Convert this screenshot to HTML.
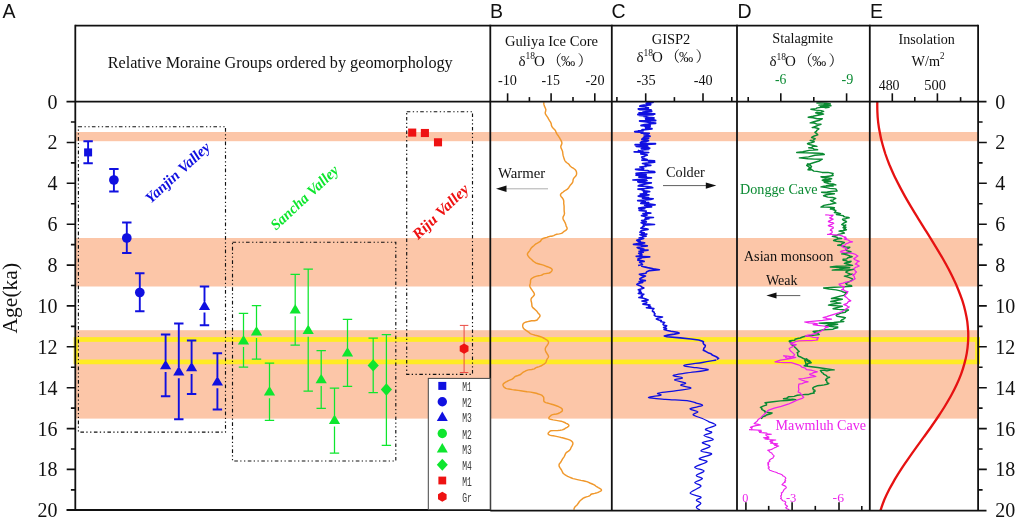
<!DOCTYPE html><html><head><meta charset="utf-8"><title>Figure</title><style>html,body{margin:0;padding:0;background:#fff}svg text{white-space:pre}</style></head><body><svg width="1017" height="520" viewBox="0 0 1017 520" style="display:block">
<rect width="1017" height="520" fill="#fff"/>
<rect x="75.5" y="132" width="902.5" height="9.199999999999989" fill="#fcc6a8"/>
<rect x="75.5" y="238" width="902.5" height="48.5" fill="#fcc6a8"/>
<rect x="75.5" y="330.2" width="902.5" height="88.40000000000003" fill="#fcc6a8"/>
<rect x="76.0" y="339.5" width="901.5" height="22.4" fill="none" stroke="#ffeb24" stroke-width="4.7"/>
<path d="M543.8,102.2L543.8,103.1L543.9,104.4L544.4,106.1L545.3,108.0L545.9,109.7L545.7,111.0L545.4,111.9L545.2,112.9L545.4,113.8L546.0,114.9L546.8,116.1L547.7,117.4L548.5,118.9L549.5,120.6L550.7,122.4L551.3,124.0L551.4,125.4L552.0,126.8L553.2,128.2L554.5,129.5L555.4,130.5L555.8,131.5L556.1,132.4L556.6,133.4L557.3,134.5L558.2,135.7L558.9,136.8L559.6,137.9L560.3,139.2L561.1,140.6L561.8,142.1L561.9,143.5L561.4,144.9L560.8,146.3L561.0,147.9L561.9,149.7L562.6,151.6L562.8,153.5L563.1,155.4L563.7,157.4L564.2,159.1L564.8,160.6L565.8,161.9L567.2,163.0L568.5,163.9L569.2,164.6L569.5,165.1L569.9,165.8L570.7,166.5L571.8,167.3L573.2,168.2L574.4,169.0L575.3,169.8L575.9,170.6L576.3,171.4L576.5,172.2L576.6,173.0L576.6,173.9L576.4,174.7L576.1,175.5L575.5,176.3L574.8,177.1L574.0,177.9L573.5,178.7L573.1,179.7L573.0,180.8L572.8,182.0L572.2,183.1L571.2,184.2L570.2,185.3L569.5,186.3L568.9,187.4L568.3,188.3L567.4,189.1L566.3,189.8L565.2,190.5L564.3,191.1L563.5,191.7L562.8,192.3L562.1,192.7L561.6,193.1L561.2,193.6L560.8,194.0L560.5,194.6L560.5,195.2L560.7,195.9L561.2,196.7L562.0,197.5L562.8,198.6L563.4,199.7L563.7,200.8L563.8,202.0L563.7,203.3L563.9,204.7L564.1,206.2L564.1,207.7L564.1,209.4L564.2,211.3L564.5,213.3L564.1,215.1L563.2,216.6L562.9,218.1L563.3,219.6L564.2,221.0L564.9,222.3L565.4,223.4L565.8,224.4L566.0,225.4L566.2,226.2L566.6,226.9L566.9,227.5L567.1,228.1L567.1,228.7L566.9,229.2L566.4,229.8L565.7,230.3L564.9,230.9L564.1,231.4L563.3,232.0L562.6,232.7L561.6,233.4L559.4,233.9L556.7,234.3L555.0,234.9L553.7,235.6L552.4,236.0L551.5,236.3L550.8,236.3L550.4,236.3L549.9,236.3L549.4,236.5L548.4,236.8L546.8,237.4L544.5,238.0L542.3,238.8L541.2,240.0L540.4,241.3L539.0,242.2L537.4,243.1L535.9,243.9L534.8,244.8L533.8,245.7L532.7,246.6L531.7,247.5L531.0,248.4L530.4,249.4L529.9,250.3L529.3,251.2L528.6,252.0L528.0,252.8L527.5,253.6L527.4,254.4L527.7,255.4L528.4,256.4L529.3,257.5L530.3,258.5L531.3,259.3L532.1,260.1L532.9,260.9L533.7,261.5L534.7,262.2L535.7,262.8L536.7,263.3L538.1,263.7L540.2,264.3L542.5,264.9L544.1,265.4L545.1,265.8L546.0,266.2L547.4,266.7L549.1,267.4L550.6,268.0L551.5,268.6L552.0,269.2L552.2,269.8L552.0,270.5L551.6,271.2L551.1,271.8L550.3,272.5L549.2,273.0L547.6,273.3L545.6,273.6L543.9,273.9L542.9,274.4L542.1,275.0L540.6,275.4L538.6,275.7L536.7,276.1L535.2,276.6L533.9,277.2L532.7,277.8L531.6,278.5L531.0,279.2L530.6,280.1L530.5,280.9L530.5,281.9L530.4,282.8L530.2,283.7L529.9,284.7L529.7,285.8L530.1,287.1L531.0,288.5L531.9,289.8L532.6,290.9L533.2,291.7L533.6,292.4L533.9,292.9L534.2,293.4L534.4,294.0L534.4,294.6L534.1,295.3L533.5,296.0L532.8,296.8L532.0,297.5L531.4,298.3L531.0,299.2L531.0,300.2L531.2,301.3L531.5,302.4L531.7,303.4L531.8,304.5L531.9,305.4L532.0,306.4L532.8,307.6L534.3,308.9L535.8,310.2L536.9,311.3L537.5,312.2L538.0,313.0L538.6,313.6L539.2,314.2L539.7,314.8L540.0,315.4L540.0,315.9L539.8,316.5L539.4,317.1L538.9,317.7L538.3,318.3L537.9,319.0L537.5,319.7L536.6,320.3L534.5,320.7L531.6,320.8L529.4,321.2L527.7,321.6L526.2,322.0L525.1,322.4L524.2,322.8L523.7,323.2L523.3,323.7L523.0,324.2L522.8,324.7L522.7,325.3L522.7,326.0L522.8,326.7L523.0,327.4L523.3,328.1L524.0,328.9L525.0,329.7L526.4,330.7L527.8,331.6L529.0,332.4L529.7,333.1L530.4,333.6L531.5,334.1L533.2,334.6L535.2,335.2L537.4,335.7L539.9,336.5L541.8,337.1L542.8,337.6L543.5,338.0L544.4,338.5L545.4,339.1L546.6,339.8L547.5,340.5L548.1,341.2L548.4,341.9L548.5,342.5L548.4,343.1L548.1,343.8L547.8,344.4L547.4,345.0L547.0,345.6L546.5,346.2L546.1,346.8L545.7,347.5L545.4,348.2L545.3,349.1L545.3,350.0L545.6,351.0L546.0,352.0L546.7,353.0L547.2,354.0L547.8,354.8L548.2,355.5L548.4,356.1L548.5,356.7L548.3,357.3L548.0,357.9L547.4,358.6L546.9,359.5L546.5,360.5L546.2,361.4L545.8,362.4L545.1,363.2L544.4,363.8L543.5,364.4L542.7,364.9L541.8,365.5L540.7,366.0L539.2,366.6L537.2,367.2L535.6,367.9L534.3,368.9L531.7,369.5L528.4,369.9L526.2,370.6L524.8,371.4L523.3,372.2L522.2,373.0L521.2,373.9L520.0,374.8L518.0,375.5L515.8,376.2L514.3,377.2L513.2,378.4L511.7,379.4L509.7,380.1L508.0,380.8L506.7,381.6L505.6,382.2L504.6,382.8L503.8,383.4L503.2,384.0L503.0,384.6L503.0,385.3L503.3,386.0L503.7,386.8L504.4,387.4L505.2,388.0L505.9,388.4L506.7,388.6L508.9,389.0L512.3,389.6L515.1,390.0L518.2,390.4L520.7,390.8L523.6,391.2L527.1,391.8L528.7,391.9L530.7,392.1L533.8,392.7L536.3,393.3L538.4,394.0L540.4,394.6L541.6,395.2L542.3,395.7L542.8,396.2L543.4,396.9L543.7,397.6L543.8,398.4L543.8,399.3L543.8,400.2L543.8,401.0L544.2,401.7L544.9,402.2L545.8,402.6L547.4,403.0L549.5,403.6L551.6,404.2L553.5,404.8L555.6,405.5L557.6,406.2L558.7,406.7L559.4,407.1L560.6,407.7L561.7,408.5L562.3,409.3L562.4,410.2L562.2,411.0L561.5,411.7L560.4,412.4L559.4,413.0L558.1,413.5L556.5,414.0L554.5,414.3L552.6,414.6L551.4,415.1L550.7,415.7L550.1,416.2L549.5,416.8L549.1,417.4L548.8,417.9L548.9,418.4L549.2,418.9L550.5,419.3L553.2,419.9L556.2,420.4L558.9,420.9L561.2,421.3L562.6,421.6L563.4,422.0L564.7,422.5L566.2,423.3L567.7,424.0L568.6,424.7L568.9,425.4L568.8,426.0L568.1,426.7L567.1,427.3L566.0,427.9L564.9,428.6L563.9,429.3L562.3,429.9L560.1,430.3L557.4,430.6L553.5,430.6L550.7,430.8L549.7,431.4L549.2,432.0L548.6,432.6L548.2,433.2L548.1,433.7L548.3,434.2L548.8,434.7L549.7,435.1L551.3,435.5L553.2,435.8L555.1,436.1L557.4,436.6L559.7,437.1L561.1,437.5L562.4,437.8L565.0,438.5L568.1,439.4L570.1,440.2L571.3,440.9L572.2,441.7L572.7,442.5L572.9,443.4L572.8,444.3L572.4,445.2L571.9,446.1L571.3,447.1L570.9,448.1L570.4,449.3L569.5,450.3L568.1,451.3L566.6,452.3L565.6,453.5L565.0,454.9L564.4,456.3L563.5,457.6L562.6,458.9L561.9,460.2L561.2,461.5L560.3,462.7L559.4,463.8L559.0,465.0L559.2,466.4L559.9,467.7L560.8,469.0L561.6,470.2L562.1,471.3L562.5,472.2L563.0,473.1L564.0,474.0L565.2,474.9L566.4,475.7L567.7,476.4L569.5,477.2L571.5,478.0L573.1,478.6L574.4,478.9L577.3,479.6L580.9,480.4L583.2,480.8L585.1,481.2L586.8,481.6L588.1,482.2L589.9,483.0L592.3,484.0L594.2,484.9L595.4,485.7L596.1,486.3L597.1,486.9L598.3,487.6L599.7,488.3L600.7,489.0L601.3,489.6L601.5,490.2L601.2,490.7L600.6,491.2L599.6,491.7L598.5,492.2L597.4,492.6L596.1,493.0L594.7,493.4L593.1,493.7L591.7,494.0L590.8,494.5L590.3,495.2L589.5,495.9L588.2,496.4L586.4,496.9L584.7,497.5L583.3,498.2L582.1,499.1L580.7,500.2L579.4,501.5L578.3,503.3L576.8,505.2L575.0,506.8L574.1,508.4L574.0,509.7" fill="none" stroke="#f0982c" stroke-width="1.45" stroke-linejoin="round"/>
<path d="M647.9,102.0L653.0,102.4L647.2,102.9L646.3,103.3L647.1,103.8L650.6,104.3L650.5,104.8L643.7,105.2L641.1,105.6L639.9,106.1L645.6,106.6L645.7,107.1L646.8,107.5L648.4,108.0L645.8,108.5L638.4,109.0L639.9,109.5L651.0,109.9L649.3,110.5L646.3,110.9L651.7,111.3L647.0,111.7L643.0,112.1L646.5,112.6L639.1,113.0L641.3,113.5L654.7,114.0L637.9,114.5L653.1,114.9L639.5,115.4L645.4,115.9L644.0,116.4L646.3,116.9L648.5,117.4L653.9,117.9L652.1,118.4L645.7,118.7L653.8,119.3L646.9,119.6L645.9,120.1L655.6,120.5L639.7,121.0L645.0,121.5L648.0,122.0L648.2,122.4L651.0,122.8L655.6,123.2L650.1,123.6L650.3,124.2L644.4,124.6L642.4,125.1L641.1,125.5L650.2,126.0L644.9,126.4L646.2,126.9L649.7,127.5L645.9,127.9L645.8,128.3L651.9,128.8L647.5,129.3L642.7,129.7L641.8,130.1L643.3,130.6L638.5,130.9L639.6,131.3L634.8,131.7L640.8,132.1L642.8,132.6L641.2,133.0L649.2,133.4L646.2,133.8L644.6,134.3L644.2,134.8L648.1,135.3L647.6,135.7L650.0,136.2L644.3,136.6L648.6,137.1L647.4,137.5L643.4,137.9L648.5,138.4L642.5,138.8L641.9,139.2L644.1,139.7L646.3,140.2L648.4,140.7L646.9,141.2L641.5,141.6L645.3,142.0L641.6,142.4L640.4,142.8L646.3,143.4L655.4,143.7L646.6,144.3L635.2,144.8L647.5,145.3L644.8,145.7L636.3,146.2L642.3,146.7L648.0,147.1L642.0,147.4L642.2,147.9L649.6,148.3L641.4,148.8L648.5,149.4L641.6,149.7" fill="none" stroke="#1010e0" stroke-width="1.9" stroke-linejoin="round"/>
<path d="M639.2,150.0L638.5,150.7L642.8,151.4L634.2,151.9L648.7,152.5L642.7,153.3L640.8,153.8L644.3,154.4L647.3,155.1L644.9,155.6L644.6,156.3L641.7,157.0L642.1,157.6L642.3,158.1L644.6,158.8L647.1,159.5L641.9,160.2L654.5,160.9L648.6,161.5L654.7,162.2L648.6,162.9L642.5,163.5L644.8,164.0L645.4,164.6L650.8,165.3L645.2,165.8L646.3,166.4L639.8,167.0L643.0,167.6L642.4,168.3L643.7,168.8L635.5,169.3L638.9,170.0L647.5,170.5L649.0,171.0L654.5,171.6L654.9,172.3L641.1,172.8L636.1,173.4L641.6,174.0L646.1,174.6L636.0,175.1L646.0,175.9L646.3,176.5L638.9,177.2L651.4,177.9L643.9,178.4L646.3,179.0L638.7,179.5L632.9,180.0L647.0,180.5L643.9,181.1L637.8,181.7L638.9,182.3L651.3,182.9L648.0,183.4L645.6,184.0L642.5,184.7L639.1,185.4L638.3,186.0L647.6,186.6L650.7,187.1L652.7,187.7L645.4,188.5L638.0,189.1L643.7,189.7L642.3,190.3L645.1,190.9L649.7,191.6L643.7,192.2L646.8,192.8L646.3,193.5L640.2,194.2L648.9,194.9L641.7,195.6L638.3,196.1L642.6,196.8L648.6,197.5L642.5,198.2L653.2,198.8L650.7,199.5L645.8,200.0L637.7,200.7L645.2,201.3L641.4,202.0L648.7,202.7L640.8,203.4L650.1,204.1L655.1,204.8L644.7,205.4L648.4,206.0L651.6,206.8L643.5,207.4L638.7,208.1L644.8,208.6L639.7,209.3L639.2,209.9L639.2,210.5L646.2,211.2L645.4,211.8L646.1,212.5L650.8,213.1L643.0,213.6L645.1,214.1L643.9,214.7L647.0,215.2L641.5,215.7L645.2,216.3L645.6,217.0L653.4,217.5L645.5,218.1L649.0,218.6L644.8,219.3L645.7,220.0L641.6,220.5L643.4,221.1L646.3,221.9L641.2,222.6L642.6,223.2L645.8,223.8L654.5,224.5L643.2,225.1L644.3,225.7L644.1,226.2L642.5,226.9L642.4,227.5L640.8,228.2L646.4,228.8L648.0,229.4L643.7,230.1L641.1,230.8L641.2,231.6L639.9,232.2L644.2,232.9L641.9,233.5L646.8,234.1L640.0,234.7L642.8,235.4L646.1,236.1L642.8,236.7L642.2,237.4L639.1,238.0L643.7,238.5L641.3,239.1L638.2,239.8L636.8,240.4L640.2,241.0L637.9,241.6L639.2,242.2L644.6,242.8L641.5,243.4L636.8,243.9L633.5,244.4L642.2,245.1L647.3,245.8L643.0,246.4L640.7,247.0L637.2,247.6L638.8,248.4L643.8,249.1L640.6,249.6L648.0,250.1L642.0,250.8L639.1,251.4L643.3,252.1L641.2,252.7L638.7,253.3L641.2,253.9L641.8,254.5L640.1,255.1L642.0,255.8L636.2,256.3L649.7,256.9L640.1,257.6L641.3,258.1L638.1,258.8L638.9,259.5L637.8,260.1L642.3,260.8L644.1,261.4L640.1,261.9L639.7,262.4L641.5,263.0L641.4,263.7L642.4,264.4L640.2,265.0L638.1,265.5" fill="none" stroke="#1010e0" stroke-width="1.7" stroke-linejoin="round"/>
<path d="M641.1,266.0L644.4,266.9L647.6,267.6L653.4,268.7L659.4,269.7L649.5,270.6L647.4,271.4L646.4,272.2L645.9,273.3L639.4,274.3L641.0,275.1L645.5,276.1L643.3,277.1L641.2,278.0L639.7,279.0L640.7,279.9L645.4,280.6L639.1,281.5L642.7,282.4L638.3,283.4L636.8,284.4L639.2,285.4L641.0,286.3L642.1,287.3L643.9,288.0L641.8,288.8L638.3,289.7L640.6,290.8L639.2,291.6L641.4,292.6L638.3,293.4L643.9,294.2L642.7,295.1L641.2,295.9L642.3,296.7L638.9,297.5L643.5,298.3L645.8,299.1L648.2,300.0L642.0,301.0L646.7,302.1L646.7,303.1L642.9,304.1L650.0,305.1L648.7,306.1L650.8,307.0L646.4,307.7L653.9,308.6L653.0,309.3L652.6,310.3L652.4,311.2L654.2,312.2L654.2,313.1L655.1,313.8L654.5,314.6L654.2,315.4L655.9,316.3L662.5,317.0L658.6,317.9L656.3,319.0L658.8,319.9L661.3,320.6L660.6,321.5L664.6,322.5L663.6,323.4L663.0,324.2L663.4,325.0L666.7,325.8L666.1,326.5L663.6,327.6L666.5,328.5L664.0,329.5L667.4,330.5L671.0,331.3L677.1,332.3L679.1,333.1L674.3,334.1L667.9,335.1L664.3,336.0L667.0,336.8L680.3,337.9L690.9,339.0L698.7,340.0L701.8,341.1L703.5,341.8L703.1,342.6L703.3,343.4L703.9,344.3L705.3,345.4L705.1,346.5L704.8,347.2L703.8,348.2L703.8,349.2L703.3,350.2L705.0,351.0L707.0,352.1L708.7,353.1L711.0,353.8L711.6,354.5L713.4,355.6L715.7,356.5L717.5,357.5L718.6,358.4L716.9,359.4" fill="none" stroke="#1010e0" stroke-width="1.6" stroke-linejoin="round"/>
<path d="M716.3,360.0C714.0,360.4 707.8,361.6 702.4,362.5C697.0,363.4 684.9,364.6 683.9,365.5C682.9,366.4 692.3,367.0 696.3,367.7C700.3,368.4 709.5,369.0 708.0,369.9C706.5,370.8 692.8,372.0 687.0,372.9C681.2,373.8 674.0,374.6 673.2,375.4C672.4,376.2 682.1,377.1 682.4,377.9C682.6,378.7 674.2,379.1 674.7,380.0C675.2,380.9 684.5,382.2 685.5,383.1C686.5,384.0 680.0,384.4 680.9,385.3C681.8,386.2 692.2,387.3 690.7,388.3C689.2,389.3 677.1,390.6 671.6,391.4C666.1,392.2 659.6,392.7 657.8,393.3C656.0,393.9 662.3,394.4 660.8,395.1C659.2,395.8 647.7,396.9 648.5,397.6C649.3,398.3 659.1,398.9 665.5,399.4C671.9,399.9 681.9,400.1 687.0,400.7C692.1,401.3 693.7,402.3 696.3,403.1C698.9,403.9 703.4,404.7 702.4,405.6C701.4,406.5 690.9,407.7 690.1,408.7C689.3,409.7 697.3,410.8 697.8,411.8C698.3,412.8 692.4,413.7 693.2,414.8C694.0,415.9 699.8,417.4 702.4,418.5C705.0,419.6 706.4,420.5 708.6,421.6C710.8,422.7 716.2,424.0 715.7,425.3C715.2,426.6 706.2,428.1 705.5,429.3C704.8,430.5 712.0,431.4 711.7,432.4C711.5,433.4 703.8,434.3 704.0,435.5C704.2,436.7 713.5,438.3 713.2,439.5C712.9,440.7 702.9,441.5 702.4,442.6C701.9,443.7 710.4,444.9 710.1,446.3C709.9,447.7 700.6,449.6 700.9,450.9C701.2,452.2 712.0,452.7 711.7,454.0C711.4,455.3 700.1,457.3 699.3,458.6C698.5,459.9 707.8,460.3 707.0,461.7C706.2,463.1 695.2,465.7 694.7,467.2C694.2,468.7 703.7,469.5 704.0,470.9C704.3,472.3 696.6,474.2 696.3,475.5C696.0,476.8 702.7,477.4 702.4,478.6C702.1,479.8 695.0,481.3 694.7,482.6C694.5,483.9 701.7,484.6 700.9,486.3C700.1,488.1 690.1,491.3 690.1,493.1C690.1,494.9 699.9,495.9 700.9,497.1C701.9,498.3 696.3,499.2 696.3,500.2C696.3,501.2 700.9,502.1 700.9,503.3C700.9,504.5 696.4,506.2 696.3,507.3C696.1,508.4 699.4,509.6 700.0,510.0" fill="none" stroke="#1010e0" stroke-width="1.3" stroke-linejoin="round"/>
<path d="M816.9,103.0L820.3,103.0L826.5,103.1L830.4,104.0L826.4,103.8L823.7,104.8L818.9,105.1L824.2,105.2L827.4,105.4L831.0,105.7L826.8,106.1L822.7,106.3L820.3,106.7L823.8,107.0L825.7,107.8L829.0,107.4L826.4,107.2L823.8,107.3L821.0,107.4L817.2,107.9L816.0,108.6L810.9,109.2L815.3,110.1L821.2,110.6L823.6,111.4L820.4,112.6L817.0,112.2L815.6,112.8L818.9,113.9L820.1,113.0L823.6,114.1L819.1,115.0L813.0,116.3L808.2,117.2L813.1,117.8L817.2,118.7L822.3,118.8L819.6,120.2L813.8,121.7L810.2,122.9L814.2,123.0L817.0,124.1L821.0,124.2L818.0,125.3L815.3,126.5L812.2,127.6L814.4,127.5L818.3,128.5L818.9,128.9L816.8,130.3L816.5,131.2L814.9,132.3L816.7,133.6L817.2,134.1L817.6,134.3L817.7,134.9L813.5,136.3L812.2,137.0L811.6,137.6L815.2,138.6L814.9,139.0L813.9,139.0L813.9,140.1L810.2,140.4L812.2,141.0L811.3,140.9L814.2,141.7L810.9,142.9L809.0,143.0L807.5,143.7L810.4,144.8L814.2,145.6L816.9,146.4L813.1,146.0L811.7,147.4L808.8,147.8L812.9,148.4L814.1,149.2L817.6,149.8L809.2,150.4L802.8,151.7L796.7,152.5L806.0,152.9L812.6,153.0L818.9,153.2L821.0,153.5L822.3,153.4L824.3,154.5L814.9,155.3L808.5,156.9L799.4,157.9L808.1,158.7L814.4,159.1L822.3,159.2L819.1,161.0L813.4,162.8L807.5,164.6L806.7,165.5L808.1,166.4L809.5,167.3L809.3,168.3L808.0,169.7L810.2,170.0L810.5,167.9L807.6,166.0L807.5,164.0L809.5,165.1L810.5,165.3L811.5,166.7L810.1,168.0L810.9,168.1L810.2,169.4L811.6,169.7L813.8,171.1L816.9,171.4L822.1,172.4L827.9,172.4L833.1,173.5L832.5,174.8L832.4,174.5L833.1,175.5L830.2,176.0L825.0,176.8L821.0,176.8L822.9,177.6L827.2,177.8L831.7,178.8L827.8,179.6L825.3,179.2L822.3,180.2L824.0,181.0L828.6,180.6L830.4,181.3L830.6,181.5L825.2,181.9L824.3,182.3L829.0,183.6L832.9,183.9L835.8,184.9L832.1,184.7L829.4,185.2L826.3,185.6L828.8,185.4L830.3,185.7L833.1,186.1L827.9,186.1L824.1,186.3L821.0,186.9L826.4,187.6L829.6,188.4L835.8,188.9L836.5,190.0L836.5,190.2L837.1,191.0L831.3,191.4L827.2,191.9L821.6,192.3L825.7,192.9L830.2,193.3L834.4,193.7L830.0,194.4L826.3,194.8L823.6,195.7L827.8,197.1L832.6,197.5L835.8,198.4L833.8,199.3L833.4,200.0L830.4,200.4L832.0,201.3L833.7,202.1L835.8,203.1L830.0,204.3L823.9,205.4L821.0,207.1L825.8,207.1L830.4,207.2L834.4,207.8L832.7,208.3L830.8,208.5L830.4,209.1L834.4,209.4L833.3,209.9L835.8,210.5L835.3,211.1L835.8,212.0L834.4,212.5L836.1,212.8L837.1,212.8L840.5,213.6L838.4,214.1L837.9,214.4L836.4,214.5L839.8,215.1L843.3,215.7L843.8,216.5L845.1,216.9L848.5,217.4L849.2,217.9L846.3,218.4L845.8,218.7L842.5,219.2L843.6,220.4L846.1,221.3L846.5,221.9L844.3,222.9L843.7,223.2L841.8,224.6L844.3,225.5L844.2,227.0L845.9,227.3L845.3,228.0L844.5,229.2L843.8,230.0L845.2,228.3L844.3,226.5L845.8,225.0L844.1,225.6L843.9,226.7L843.1,227.7L844.2,228.1L844.5,229.0L846.4,229.7L843.6,230.5L840.7,230.7L839.0,231.1L840.8,231.4L843.3,232.4L844.4,233.1L838.4,234.4L837.2,235.1L832.3,236.4L837.0,237.2L837.5,237.9L841.7,238.5L838.7,238.8L834.4,239.9L833.6,240.5L836.6,241.3L841.2,241.7L844.4,242.5L841.7,243.9L841.5,244.5L837.7,245.2L841.4,245.6L845.4,247.0L849.8,247.2L848.9,248.0L846.0,249.0L845.8,249.9L846.7,250.6L850.0,251.5L851.1,251.9L848.1,252.5L845.1,253.8L841.7,253.9L844.8,254.2L848.5,255.4L849.8,256.0L852.1,256.7L847.9,257.7L847.1,258.6L846.1,259.0L843.1,259.2L843.1,260.3L845.6,260.5L847.9,261.6L851.1,261.3L849.6,262.3L846.2,262.8L844.4,263.4L846.9,264.0L850.5,264.9L852.5,265.4L845.4,266.0L836.4,266.3L830.3,267.0L837.1,267.2L842.6,267.6L849.8,267.8L843.1,268.4L838.9,269.2L832.3,270.1L840.8,270.0L847.4,269.9L853.8,269.4L849.2,270.3L847.3,271.1L845.8,272.1L847.9,273.1L850.2,273.9L852.5,274.1L849.3,274.8L847.2,275.7L844.4,276.1L847.1,276.9L849.5,277.6L852.5,278.8L852.7,279.9L851.1,280.7L849.8,281.5L847.9,282.1L847.8,282.7L845.8,283.5L847.1,284.9L851.2,285.4L851.8,286.2L842.9,286.9L834.3,287.3L823.6,288.0L829.2,289.1L836.1,289.9L840.4,290.9L841.9,291.3L842.5,291.7L844.4,292.3L845.3,292.5L845.5,292.1L846.9,292.3L845.5,293.4L845.5,294.0L843.8,295.4L840.1,296.1L836.3,297.2L831.5,298.5L834.1,298.5L838.7,298.7L842.3,299.2L838.7,300.0L834.7,300.8L830.8,301.5L834.9,301.9L837.4,302.6L840.8,303.1L834.8,303.8L831.9,304.2L828.5,305.1L832.7,305.5L838.0,305.9L842.3,306.2L838.6,307.2L836.5,307.8L833.1,308.8L838.2,309.4L843.7,309.8L848.5,310.0L846.0,311.3L845.3,312.2L840.8,313.1L837.8,314.3L837.2,314.2L836.2,315.4L837.1,316.3L843.3,317.2L845.4,317.7L843.5,319.1L842.2,319.6L840.8,320.8L841.9,321.1L842.9,321.4L843.8,321.5L833.7,322.5L826.9,322.7L819.2,323.1L824.7,323.5L831.4,323.4L837.7,324.2L833.9,325.0L828.5,324.9L825.4,326.2L828.9,326.2L833.7,326.7L837.7,326.9L837.6,327.9L834.4,328.5L833.1,329.2L823.8,329.8L818.9,330.7L813.1,331.5L815.4,332.6L818.0,333.4L819.2,334.6L814.9,335.1L810.0,335.7L805.4,336.2L802.6,337.0L800.2,338.0L797.7,338.5L795.0,339.3L794.9,340.2L790.0,340.8" fill="none" stroke="#0a8a32" stroke-width="1.45" stroke-linejoin="round" stroke-linecap="round"/>
<path d="M790.0,340.8L789.2,341.2L791.0,341.9L790.9,341.9L790.0,342.3L791.4,343.4L791.3,344.5L794.2,345.8L794.6,346.9L795.5,347.8L796.9,349.1L798.1,350.5L799.2,351.5L797.2,352.7L797.7,353.6L797.7,355.3L798.5,356.2L800.7,357.0L801.3,357.3L803.4,358.5L805.4,359.2L806.5,360.2L807.4,361.2L809.4,362.0L810.0,362.3L809.0,363.2L807.0,364.4L807.4,365.2L805.4,366.2L806.0,364.3L805.6,362.4L804.8,360.4L806.5,358.8L807.7,359.8L809.7,360.9L810.3,361.7L811.2,362.7L807.6,363.5L807.0,364.3L805.7,364.9L804.2,365.8L811.3,366.7L817.7,367.5L827.7,369.0L834.2,369.9L830.4,370.0L827.0,370.9L824.3,370.3L820.4,370.4L820.6,370.8L822.0,372.6L823.4,373.3L823.5,374.2L824.5,374.7L826.6,375.7L827.2,376.9L829.6,377.3L827.9,377.9L825.8,379.3L826.6,379.6L825.8,380.4L826.8,380.9L826.8,382.0L827.4,382.8L828.8,383.5L826.9,384.2L824.2,384.9L821.6,385.3L817.3,385.8L816.5,386.1L814.8,386.7L813.8,387.2L812.7,388.1L813.5,389.5L813.2,389.8L814.9,390.2L815.0,391.2L813.8,391.6L813.4,392.2L814.2,393.1L811.2,393.5L808.6,394.4L805.3,394.4L801.1,394.9L797.3,395.3L794.1,396.4L788.8,396.7L786.7,398.1L783.5,398.8L786.1,399.0L790.5,399.4L792.6,399.3L795.8,399.6L786.9,400.5L780.5,400.9L773.1,401.8L765.0,402.7L765.1,402.9L766.5,403.7L766.4,404.5L766.5,405.0L764.5,405.6L763.2,406.1L762.0,406.6L760.4,407.3L762.0,408.3L761.7,409.3L763.5,410.3L765.0,411.2L764.6,411.8L766.2,412.2L772.1,413.0L771.2,413.5L770.0,414.0L766.3,415.0L765.6,415.7L763.5,416.5L762.4,416.8L762.1,417.8L762.0,417.8L761.6,418.4" fill="none" stroke="#0a8a32" stroke-width="1.45" stroke-linejoin="round" stroke-linecap="round"/>
<path d="M825.7,214.9L828.5,215.0L829.8,215.3L833.1,215.2L832.2,216.2L831.0,217.3L829.7,217.9L831.5,218.6L831.7,218.7L833.1,219.2L831.0,220.1L828.4,221.4L829.0,221.9L830.7,222.4L832.8,222.7L833.7,223.3L832.1,224.2L828.9,225.3L828.3,225.7L830.0,226.3L830.6,226.4L833.0,227.0L833.4,228.0L830.9,229.4L830.3,230.4L831.8,230.7L832.3,232.2L831.6,233.1L831.0,233.3L829.2,234.3L827.6,234.4L831.3,234.5L834.9,234.8L839.0,235.1L841.9,235.8L843.2,236.6L845.8,237.1L844.5,237.5L846.7,238.3L844.4,239.1L848.3,240.0L849.6,241.0L852.5,241.8L849.6,242.3L847.9,243.1L845.8,243.8L845.0,245.2L842.2,245.4L841.7,246.5L844.1,247.6L846.2,248.2L847.1,249.2L845.3,250.1L841.4,251.1L840.4,251.9L843.3,252.5L848.1,252.8L852.5,253.3L855.9,254.5L856.4,255.2L857.9,256.0L856.0,257.1L855.7,257.6L853.8,258.6L854.4,259.5L857.3,260.6L859.2,261.3L857.1,262.0L856.9,263.2L855.2,264.0L857.3,265.0L857.2,264.8L859.2,266.0L857.5,266.8L855.8,267.2L853.8,268.7L854.7,269.9L855.2,271.1L856.5,272.1L855.3,273.1L854.8,274.2L852.5,274.8L854.3,276.2L854.4,277.6L855.2,278.8L853.6,279.6L851.9,280.8L849.8,281.5L845.9,282.2L843.1,283.2L839.0,284.2L839.7,285.1L841.5,286.1L844.4,286.9L843.2,287.8L843.5,289.0L841.7,289.6L843.5,289.8L845.0,290.7L847.1,291.6L848.0,291.9L848.0,291.7L847.7,291.5L847.1,293.2L845.4,294.8L844.6,296.2L846.5,297.4L848.8,299.6L850.8,300.8L848.3,301.7L847.1,303.4L843.8,304.6L846.1,305.3L847.8,306.5L849.2,306.9L846.5,308.6L844.9,309.8L842.3,311.5L839.4,312.7L835.5,313.9L833.1,314.6L828.9,315.9L826.9,316.7L823.1,317.7L825.3,318.0L827.1,318.7L831.5,319.2L822.5,320.3L814.4,321.1L804.6,322.0L808.7,322.8L813.3,323.2L817.7,323.8L815.3,324.3L814.1,324.8L813.1,324.6L817.6,325.3L823.4,326.0L828.5,326.9L825.6,327.7L824.3,328.9L823.1,330.0L820.0,331.7L815.6,333.3L811.5,334.6L807.9,335.0L807.0,335.4L805.4,336.2L810.1,336.5L813.3,337.4L818.5,337.7L817.7,338.4L816.8,339.4L817.7,340.0L811.6,340.6L807.0,340.7L799.2,340.8L795.9,341.4L794.3,342.3L790.0,343.1L792.5,343.6L791.6,344.1L796.2,344.6L794.0,345.9L791.5,347.2L789.2,348.5L790.3,350.7L792.5,352.6L794.6,354.6L793.8,356.0L789.8,357.3L788.5,358.5L785.7,357.6L786.2,356.4L783.5,355.8L787.5,356.1L791.8,356.9L795.8,357.3L789.0,358.8L780.5,360.2L775.0,361.9L780.1,362.4L784.3,362.7L791.2,362.7L793.7,363.4L798.4,364.8L800.4,365.8L801.8,367.1L805.0,368.0L806.5,369.6L811.1,370.2L814.3,371.0L817.3,371.9L813.6,372.6L811.8,373.5L809.6,374.2L810.4,374.8L814.0,375.7L815.8,376.5L809.8,377.4L803.5,378.5L798.8,378.8L801.4,380.0L804.9,381.1L808.1,381.9L804.7,382.5L802.1,383.6L798.8,384.2L798.5,387.3L798.9,389.7L798.1,391.9L800.6,393.2L801.0,394.3L802.7,395.0L802.4,396.1L803.7,397.3L802.7,398.1L797.0,400.1L792.3,402.4L788.1,404.2L781.2,406.3L774.3,408.2L768.1,410.4L766.0,412.7L763.0,415.4L760.4,418.1L758.1,419.6L757.1,421.3L754.2,423.5L755.4,423.9L758.4,424.3L760.4,425.0L755.9,425.7L753.0,426.4L750.4,427.3L752.1,427.6L751.4,428.9L751.9,429.6" fill="none" stroke="#ec22ec" stroke-width="1.25" stroke-linejoin="round" stroke-linecap="round"/>
<path d="M749.0,429.6L761.4,430.3L758.4,430.9L761.4,431.4L759.6,432.0L759.6,432.5L766.8,433.1L767.1,433.7L771.4,434.2L765.7,434.9L766.3,435.5L766.8,436.1L767.5,436.6L768.9,437.1L763.4,437.7L769.0,438.3L764.9,438.9L768.2,439.5L775.8,440.0L770.5,440.7L769.9,441.4L772.7,441.9L772.4,442.4L770.5,443.1L777.7,443.7L773.6,444.2L777.1,444.7L774.7,445.4L778.8,446.0L776.8,446.6L776.1,447.2L774.2,447.9L773.2,448.6L772.3,449.1L770.6,449.6L767.6,450.2L769.2,450.8L769.0,451.3L769.7,451.9L770.5,452.4L771.8,453.0L772.0,453.5L772.4,454.2L773.1,454.9L774.0,455.6L774.1,456.1L773.7,456.6L773.2,457.2L773.2,457.7L772.5,458.2L771.1,458.8L770.6,459.5L769.4,460.1L769.3,460.7L770.0,461.2L768.9,461.7L768.8,462.3L767.8,462.8L768.6,463.5L767.7,464.1L768.7,464.6L768.2,465.1L768.0,465.8L768.9,466.4L768.8,466.9L769.2,467.4L768.1,468.0L768.6,468.6L769.3,469.1L769.2,469.6L769.8,470.2L771.3,470.7L772.6,471.3L774.2,471.8L776.7,472.5L777.9,473.2L779.6,473.8L780.9,474.3L782.4,475.0L782.5,475.5L783.2,476.1L784.3,476.6L785.3,477.4L785.7,478.0L785.8,478.7L785.1,479.4L785.1,480.1L785.7,480.8L784.6,481.5L785.2,482.2L783.9,482.8L783.0,483.4L782.8,484.0L782.0,484.7L783.7,485.4L785.3,486.1L785.8,486.7L786.3,487.2L786.2,487.9L785.4,488.5L784.7,489.0L783.9,489.6L783.7,490.3L783.4,490.9L783.0,491.5L782.6,492.2L781.2,492.9L781.7,493.4L781.5,494.1L781.6,494.7L781.3,495.4L780.6,496.0L781.0,496.6L781.3,497.3L781.1,498.0L780.6,498.5L781.4,499.0L782.1,499.6L782.0,500.1L782.9,500.7L785.0,501.4L785.6,501.9L785.8,502.4L785.4,503.0L785.0,503.6L785.7,504.1L785.1,504.6L786.1,505.3L787.0,505.8L787.5,506.5L786.5,507.1L785.7,507.7L786.5,508.4L787.6,509.0L789.3,509.6" fill="none" stroke="#ec22ec" stroke-width="1.15" stroke-linejoin="round"/>
<path d="M877.3,101.6C877.3,103.3 877.2,108.6 877.4,112.1C877.5,115.6 877.8,119.1 878.2,122.6C878.6,126.1 879.2,129.5 879.9,133.0C880.5,136.5 881.3,140.0 882.3,143.5C883.2,147.0 884.3,150.5 885.4,154.0C886.6,157.5 887.9,161.0 889.3,164.5C890.8,168.0 892.3,171.5 893.9,175.0C895.5,178.4 897.3,181.9 899.1,185.4C900.9,188.9 902.8,192.4 904.7,195.9C906.7,199.4 908.7,202.9 910.8,206.4C912.9,209.9 915.0,213.4 917.2,216.9C919.3,220.4 921.5,223.9 923.7,227.4C925.9,230.8 928.1,234.3 930.3,237.8C932.4,241.3 934.6,244.8 936.7,248.3C938.8,251.8 940.9,255.3 942.9,258.8C944.9,262.3 946.8,265.8 948.7,269.3C950.5,272.8 952.3,276.3 953.9,279.8C955.6,283.2 957.1,286.7 958.5,290.2C959.9,293.7 961.2,297.2 962.4,300.7C963.5,304.2 964.5,307.7 965.3,311.2C966.1,314.7 966.8,318.2 967.3,321.7C967.7,325.2 968.0,328.7 968.2,332.1C968.3,335.6 968.3,339.1 968.0,342.6C967.8,346.1 967.4,349.6 966.8,353.1C966.2,356.6 965.4,360.1 964.4,363.6C963.5,367.1 962.4,370.6 961.1,374.1C959.8,377.6 958.3,381.1 956.7,384.5C955.1,388.0 953.3,391.5 951.4,395.0C949.5,398.5 947.4,402.0 945.3,405.5C943.2,409.0 940.9,412.5 938.6,416.0C936.3,419.5 933.8,423.0 931.4,426.5C929.0,430.0 926.4,433.5 923.9,436.9C921.4,440.4 918.8,443.9 916.3,447.4C913.8,450.9 911.3,454.4 908.9,457.9C906.4,461.4 904.0,464.9 901.7,468.4C899.4,471.9 897.2,475.4 895.1,478.9C893.1,482.4 891.1,485.8 889.3,489.3C887.5,492.8 885.8,496.3 884.3,499.8C882.9,503.3 881.1,508.6 880.5,510.3" fill="none" stroke="#e61212" stroke-width="2.3"/>
<g stroke="#111" stroke-width="1.8" fill="none">
<path d="M75.3,25.6H978.1"/>
<path d="M66.5,101.6H986.5"/>
<path d="M66.5,510H490.3M490.3,510.6H986.5"/>
<path d="M75.3,24.8V511.1"/>
<path d="M490.3,24.8V511.1"/>
<path d="M611.8,24.8V511.1"/>
<path d="M737,24.8V511.1"/>
<path d="M869.8,24.8V511.1"/>
<path d="M978.1,24.8V511.1"/>
</g>
<g stroke="#111" stroke-width="1.6">
<path d="M70.9,122.0H75.5M978,122.0H982.6"/>
<path d="M66.7,142.5H75.5M978,142.5H986.8"/>
<path d="M70.9,162.9H75.5M978,162.9H982.6"/>
<path d="M66.7,183.3H75.5M978,183.3H986.8"/>
<path d="M70.9,203.8H75.5M978,203.8H982.6"/>
<path d="M66.7,224.2H75.5M978,224.2H986.8"/>
<path d="M70.9,244.6H75.5M978,244.6H982.6"/>
<path d="M66.7,265.1H75.5M978,265.1H986.8"/>
<path d="M70.9,285.5H75.5M978,285.5H982.6"/>
<path d="M66.7,305.9H75.5M978,305.9H986.8"/>
<path d="M70.9,326.4H75.5M978,326.4H982.6"/>
<path d="M66.7,346.8H75.5M978,346.8H986.8"/>
<path d="M70.9,367.3H75.5M978,367.3H982.6"/>
<path d="M66.7,387.7H75.5M978,387.7H986.8"/>
<path d="M70.9,408.1H75.5M978,408.1H982.6"/>
<path d="M66.7,428.6H75.5M978,428.6H986.8"/>
<path d="M70.9,449.0H75.5M978,449.0H982.6"/>
<path d="M66.7,469.4H75.5M978,469.4H986.8"/>
<path d="M70.9,489.9H75.5M978,489.9H982.6"/>
<path d="M507.6,101.6V93.3"/>
<path d="M529.4,101.6V97.1"/>
<path d="M551.1,101.6V93.3"/>
<path d="M573.0,101.6V97.1"/>
<path d="M594.8,101.6V93.3"/>
<path d="M616.9,101.6V97.1"/>
<path d="M645.7,101.6V93.3"/>
<path d="M674.4,101.6V97.1"/>
<path d="M703.0,101.6V93.3"/>
<path d="M731.8,101.6V97.1"/>
<path d="M748.2,101.6V97.1"/>
<path d="M780.8,101.6V93.3"/>
<path d="M813.8,101.6V97.1"/>
<path d="M846.6,101.6V93.3"/>
<path d="M892.3,101.6V93.3"/>
<path d="M914.8,101.6V97.1"/>
<path d="M937.4,101.6V93.3"/>
<path d="M960.6,101.6V97.1"/>
<path d="M745.9,510.3V502.3"/>
<path d="M768.7,510.3V505.90000000000003"/>
<path d="M792.1,510.3V502.3"/>
<path d="M815.3,510.3V505.90000000000003"/>
<path d="M839.0,510.3V502.3"/>
<path d="M861.8,510.3V505.90000000000003"/>
</g>
<g stroke="#111" stroke-width="1.15" fill="none" stroke-dasharray="3.6,2.5,1.3,2.5,1.3,2.3">
<rect x="78.4" y="126.7" width="147.1" height="305.4"/>
<rect x="232.5" y="242.2" width="163.3" height="218.8"/>
<rect x="406.7" y="111.7" width="65.8" height="262.6"/>
</g>
<path d="M88.1,141.2V163.3M83.39999999999999,141.2H92.8M83.39999999999999,163.3H92.8" stroke="#1010e0" stroke-width="1.9" fill="none"/>
<rect x="84.1" y="148.4" width="8" height="8" fill="#1010e0"/>
<path d="M113.9,169V191.5M109.2,169H118.60000000000001M109.2,191.5H118.60000000000001" stroke="#1010e0" stroke-width="1.9" fill="none"/>
<circle cx="113.9" cy="180" r="4.85" fill="#1010e0"/>
<path d="M126.8,222.5V253M122.1,222.5H131.5M122.1,253H131.5" stroke="#1010e0" stroke-width="1.9" fill="none"/>
<circle cx="126.8" cy="238" r="4.85" fill="#1010e0"/>
<path d="M139.8,273.3V311.3M135.10000000000002,273.3H144.5M135.10000000000002,311.3H144.5" stroke="#1010e0" stroke-width="1.9" fill="none"/>
<circle cx="139.8" cy="292.5" r="4.85" fill="#1010e0"/>
<path d="M204.5,286.5V301.5M204.5,312.6V325.3M199.8,286.5H209.2M199.8,325.3H209.2" stroke="#1010e0" stroke-width="1.9" fill="none"/>
<path d="M204.5,300.4L210.1,309.9H198.9Z" fill="#1010e0"/>
<path d="M165.6,334.5V360.8M165.6,371.9V396.3M160.9,334.5H170.29999999999998M160.9,396.3H170.29999999999998" stroke="#1010e0" stroke-width="1.9" fill="none"/>
<path d="M165.6,359.7L171.2,369.2H160.0Z" fill="#1010e0"/>
<path d="M178.8,323.5V367.2M178.8,378.3V419.3M174.10000000000002,323.5H183.5M174.10000000000002,419.3H183.5" stroke="#1010e0" stroke-width="1.9" fill="none"/>
<path d="M178.8,366.1L184.4,375.6H173.20000000000002Z" fill="#1010e0"/>
<path d="M191.6,340.5V362.9M191.6,374.0V394M186.9,340.5H196.29999999999998M186.9,394H196.29999999999998" stroke="#1010e0" stroke-width="1.9" fill="none"/>
<path d="M191.6,361.8L197.2,371.3H186.0Z" fill="#1010e0"/>
<path d="M217.4,353.3V377.2M217.4,388.3V409.5M212.70000000000002,353.3H222.1M212.70000000000002,409.5H222.1" stroke="#1010e0" stroke-width="1.9" fill="none"/>
<path d="M217.4,376.1L223.0,385.6H211.8Z" fill="#1010e0"/>
<path d="M243.5,313.3V336.0M243.5,347.1V367M238.8,313.3H248.2M238.8,367H248.2" stroke="#0ee62e" stroke-width="1.25" fill="none"/>
<path d="M243.5,334.9L249.1,344.4H237.9Z" fill="#0ee62e"/>
<path d="M256.5,305.5V327.0M256.5,338.1V359M251.8,305.5H261.2M251.8,359H261.2" stroke="#0ee62e" stroke-width="1.25" fill="none"/>
<path d="M256.5,325.9L262.1,335.4H250.9Z" fill="#0ee62e"/>
<path d="M269.5,363V387.2M269.5,398.3V420.4M264.8,363H274.2M264.8,420.4H274.2" stroke="#0ee62e" stroke-width="1.25" fill="none"/>
<path d="M269.5,386.1L275.1,395.6H263.9Z" fill="#0ee62e"/>
<path d="M295.2,274.4V305.2M295.2,316.3V345.2M290.5,274.4H299.9M290.5,345.2H299.9" stroke="#0ee62e" stroke-width="1.25" fill="none"/>
<path d="M295.2,304.1L300.8,313.6H289.59999999999997Z" fill="#0ee62e"/>
<path d="M308.2,269.2V325.6M308.2,336.7V391M303.5,269.2H312.9M303.5,391H312.9" stroke="#0ee62e" stroke-width="1.25" fill="none"/>
<path d="M308.2,324.5L313.8,334.0H302.59999999999997Z" fill="#0ee62e"/>
<path d="M321.2,350.5V374.8M321.2,385.9V408.3M316.5,350.5H325.9M316.5,408.3H325.9" stroke="#0ee62e" stroke-width="1.25" fill="none"/>
<path d="M321.2,373.7L326.8,383.2H315.59999999999997Z" fill="#0ee62e"/>
<path d="M334.5,388V415.5M334.5,426.6V453M329.8,388H339.2M329.8,453H339.2" stroke="#0ee62e" stroke-width="1.25" fill="none"/>
<path d="M334.5,414.4L340.1,423.9H328.9Z" fill="#0ee62e"/>
<path d="M347.5,319.3V348.0M347.5,359.1V386.3M342.8,319.3H352.2M342.8,386.3H352.2" stroke="#0ee62e" stroke-width="1.25" fill="none"/>
<path d="M347.5,346.9L353.1,356.4H341.9Z" fill="#0ee62e"/>
<path d="M373.2,338V392.5M368.5,338H377.9M368.5,392.5H377.9" stroke="#0ee62e" stroke-width="1.25" fill="none"/>
<path d="M373.2,359.2L378.8,365.4L373.2,371.59999999999997L367.59999999999997,365.4Z" fill="#0ee62e"/>
<path d="M386.4,334.5V445.3M381.7,334.5H391.09999999999997M381.7,445.3H391.09999999999997" stroke="#0ee62e" stroke-width="1.25" fill="none"/>
<path d="M386.4,383.3L392.0,389.5L386.4,395.7L380.79999999999995,389.5Z" fill="#0ee62e"/>
<rect x="408.15" y="128.54999999999998" width="8.1" height="8.1" fill="#ee1212"/>
<rect x="420.84999999999997" y="128.95" width="8.1" height="8.1" fill="#ee1212"/>
<rect x="433.95" y="138.25" width="8.1" height="8.1" fill="#ee1212"/>
<path d="M464.1,325.4V372.5M459.85,325.4H468.35M459.85,372.5H468.35" stroke="#ea4a42" stroke-width="1.0" fill="none"/>
<polygon points="464.1,353.8 459.7,351.2 459.7,346.1 464.1,343.6 468.5,346.1 468.5,351.2" fill="#ee1212"/>
<rect x="428.3" y="378.4" width="61.9" height="131.2" fill="#fff" stroke="#444" stroke-width="1"/>
<rect x="438.3" y="381.9" width="8" height="8" fill="#1010e0"/>
<circle cx="442.3" cy="401.7" r="4.7" fill="#1010e0"/>
<path d="M442.3,411.5L447.8,421.0H436.8Z" fill="#1010e0"/>
<circle cx="442.3" cy="433.5" r="4.7" fill="#0ee62e"/>
<path d="M442.3,443.0L447.8,452.5H436.8Z" fill="#0ee62e"/>
<path d="M442.3,458.7L447.8,464.7L442.3,470.7L436.8,464.7Z" fill="#0ee62e"/>
<rect x="438.40000000000003" y="476.6" width="7.8" height="7.8" fill="#ee1212"/>
<polygon points="442.3,501.8 438.0,499.3 438.0,494.3 442.3,491.8 446.6,494.3 446.6,499.3" fill="#ee1212"/>
<text x="2.5" y="18" font-size="19.5" font-family="Liberation Sans, Arial, sans-serif" fill="#111" text-anchor="start" >A</text>
<text x="490" y="18" font-size="19.5" font-family="Liberation Sans, Arial, sans-serif" fill="#111" text-anchor="start" >B</text>
<text x="611.5" y="18" font-size="19.5" font-family="Liberation Sans, Arial, sans-serif" fill="#111" text-anchor="start" >C</text>
<text x="737.5" y="18" font-size="19.5" font-family="Liberation Sans, Arial, sans-serif" fill="#111" text-anchor="start" >D</text>
<text x="870" y="18" font-size="19.5" font-family="Liberation Sans, Arial, sans-serif" fill="#111" text-anchor="start" >E</text>
<text x="107.7" y="67.6" font-size="16.5" font-family="Liberation Serif, Times New Roman, serif" fill="#111" text-anchor="start" textLength="345" lengthAdjust="spacingAndGlyphs" >Relative Moraine Groups ordered by geomorphology</text>
<text x="505" y="46" font-size="14.5" font-family="Liberation Serif, Times New Roman, serif" fill="#111" text-anchor="start" textLength="93" lengthAdjust="spacingAndGlyphs" >Guliya Ice Core</text>
<text x="651.8" y="44" font-size="14.5" font-family="Liberation Serif, Times New Roman, serif" fill="#111" text-anchor="start" textLength="38.5" lengthAdjust="spacingAndGlyphs" >GISP2</text>
<text x="772.3" y="42.9" font-size="14.5" font-family="Liberation Serif, Times New Roman, serif" fill="#111" text-anchor="start" textLength="60.7" lengthAdjust="spacingAndGlyphs" >Stalagmite</text>
<text x="898.5" y="44.3" font-size="14.5" font-family="Liberation Serif, Times New Roman, serif" fill="#111" text-anchor="start" textLength="56.4" lengthAdjust="spacingAndGlyphs" >Insolation</text>
<text y="65.6" font-size="15" font-family="Liberation Serif, 'Noto Serif CJK SC', serif" fill="#111"><tspan x="518.4">δ</tspan><tspan x="525.5" font-size="9.5" dy="-6.2">18</tspan><tspan x="534.0" dy="6.2">O</tspan><tspan x="546.9">（</tspan><tspan x="561.0" textLength="14.2" lengthAdjust="spacingAndGlyphs">‰</tspan><tspan x="577.4">）</tspan></text>
<text y="62.4" font-size="15" font-family="Liberation Serif, 'Noto Serif CJK SC', serif" fill="#111"><tspan x="636.5">δ</tspan><tspan x="643.6" font-size="9.5" dy="-6.2">18</tspan><tspan x="652.1" dy="6.2">O</tspan><tspan x="665.0">（</tspan><tspan x="679.1" textLength="14.2" lengthAdjust="spacingAndGlyphs">‰</tspan><tspan x="695.5">）</tspan></text>
<text y="66.1" font-size="15" font-family="Liberation Serif, 'Noto Serif CJK SC', serif" fill="#111"><tspan x="769.5">δ</tspan><tspan x="776.6" font-size="9.5" dy="-6.2">18</tspan><tspan x="785.1" dy="6.2">O</tspan><tspan x="798.0">（</tspan><tspan x="812.1" textLength="14.2" lengthAdjust="spacingAndGlyphs">‰</tspan><tspan x="828.5">）</tspan></text>
<text x="911.5" y="65.9" font-size="15" font-family="Liberation Serif, Times New Roman, serif" fill="#111" textLength="33" lengthAdjust="spacingAndGlyphs">W/m<tspan font-size="9.5" dy="-7">2</tspan></text>
<text x="498" y="85.1" font-size="14.5" font-family="Liberation Serif, Times New Roman, serif" fill="#111" text-anchor="start" textLength="19" lengthAdjust="spacingAndGlyphs" >-10</text>
<text x="541.4" y="85.1" font-size="14.5" font-family="Liberation Serif, Times New Roman, serif" fill="#111" text-anchor="start" textLength="18.6" lengthAdjust="spacingAndGlyphs" >-15</text>
<text x="585.6" y="85.1" font-size="14.5" font-family="Liberation Serif, Times New Roman, serif" fill="#111" text-anchor="start" textLength="18.9" lengthAdjust="spacingAndGlyphs" >-20</text>
<text x="636.5" y="85.1" font-size="14.5" font-family="Liberation Serif, Times New Roman, serif" fill="#111" text-anchor="start" textLength="19.2" lengthAdjust="spacingAndGlyphs" >-35</text>
<text x="693.8" y="85.1" font-size="14.5" font-family="Liberation Serif, Times New Roman, serif" fill="#111" text-anchor="start" textLength="18.9" lengthAdjust="spacingAndGlyphs" >-40</text>
<text x="775" y="83.8" font-size="14.5" font-family="Liberation Serif, Times New Roman, serif" fill="#0a8a32" text-anchor="start" textLength="11.4" lengthAdjust="spacingAndGlyphs" >-6</text>
<text x="841.5" y="83.8" font-size="14.5" font-family="Liberation Serif, Times New Roman, serif" fill="#0a8a32" text-anchor="start" textLength="11.8" lengthAdjust="spacingAndGlyphs" >-9</text>
<text x="878.7" y="89.7" font-size="14.5" font-family="Liberation Serif, Times New Roman, serif" fill="#111" text-anchor="start" textLength="20.9" lengthAdjust="spacingAndGlyphs" >480</text>
<text x="924.2" y="89.7" font-size="14.5" font-family="Liberation Serif, Times New Roman, serif" fill="#111" text-anchor="start" textLength="21.7" lengthAdjust="spacingAndGlyphs" >500</text>
<text x="742.3" y="502" font-size="13" font-family="Liberation Serif, Times New Roman, serif" fill="#ec22ec" text-anchor="start" textLength="6.1" lengthAdjust="spacingAndGlyphs" >0</text>
<text x="785.9" y="502" font-size="13" font-family="Liberation Serif, Times New Roman, serif" fill="#ec22ec" text-anchor="start" textLength="10.5" lengthAdjust="spacingAndGlyphs" >-3</text>
<text x="832.6" y="502" font-size="13" font-family="Liberation Serif, Times New Roman, serif" fill="#ec22ec" text-anchor="start" textLength="11.4" lengthAdjust="spacingAndGlyphs" >-6</text>
<text x="57.6" y="108.5" font-size="20" font-family="Liberation Serif, Times New Roman, serif" fill="#111" text-anchor="end" >0</text>
<text x="995.2" y="108.5" font-size="20" font-family="Liberation Serif, Times New Roman, serif" fill="#111" text-anchor="start" >0</text>
<text x="57.6" y="149.4" font-size="20" font-family="Liberation Serif, Times New Roman, serif" fill="#111" text-anchor="end" >2</text>
<text x="995.2" y="149.4" font-size="20" font-family="Liberation Serif, Times New Roman, serif" fill="#111" text-anchor="start" >2</text>
<text x="57.6" y="190.2" font-size="20" font-family="Liberation Serif, Times New Roman, serif" fill="#111" text-anchor="end" >4</text>
<text x="995.2" y="190.2" font-size="20" font-family="Liberation Serif, Times New Roman, serif" fill="#111" text-anchor="start" >4</text>
<text x="57.6" y="231.1" font-size="20" font-family="Liberation Serif, Times New Roman, serif" fill="#111" text-anchor="end" >6</text>
<text x="995.2" y="231.1" font-size="20" font-family="Liberation Serif, Times New Roman, serif" fill="#111" text-anchor="start" >6</text>
<text x="57.6" y="272.0" font-size="20" font-family="Liberation Serif, Times New Roman, serif" fill="#111" text-anchor="end" >8</text>
<text x="995.2" y="272.0" font-size="20" font-family="Liberation Serif, Times New Roman, serif" fill="#111" text-anchor="start" >8</text>
<text x="57.6" y="312.8" font-size="20" font-family="Liberation Serif, Times New Roman, serif" fill="#111" text-anchor="end" >10</text>
<text x="995.2" y="312.8" font-size="20" font-family="Liberation Serif, Times New Roman, serif" fill="#111" text-anchor="start" >10</text>
<text x="57.6" y="353.7" font-size="20" font-family="Liberation Serif, Times New Roman, serif" fill="#111" text-anchor="end" >12</text>
<text x="995.2" y="353.7" font-size="20" font-family="Liberation Serif, Times New Roman, serif" fill="#111" text-anchor="start" >12</text>
<text x="57.6" y="394.6" font-size="20" font-family="Liberation Serif, Times New Roman, serif" fill="#111" text-anchor="end" >14</text>
<text x="995.2" y="394.6" font-size="20" font-family="Liberation Serif, Times New Roman, serif" fill="#111" text-anchor="start" >14</text>
<text x="57.6" y="435.5" font-size="20" font-family="Liberation Serif, Times New Roman, serif" fill="#111" text-anchor="end" >16</text>
<text x="995.2" y="435.5" font-size="20" font-family="Liberation Serif, Times New Roman, serif" fill="#111" text-anchor="start" >16</text>
<text x="57.6" y="476.3" font-size="20" font-family="Liberation Serif, Times New Roman, serif" fill="#111" text-anchor="end" >18</text>
<text x="995.2" y="476.3" font-size="20" font-family="Liberation Serif, Times New Roman, serif" fill="#111" text-anchor="start" >18</text>
<text x="57.6" y="517.2" font-size="20" font-family="Liberation Serif, Times New Roman, serif" fill="#111" text-anchor="end" >20</text>
<text x="995.2" y="517.2" font-size="20" font-family="Liberation Serif, Times New Roman, serif" fill="#111" text-anchor="start" >20</text>
<text transform="translate(17.2,298.2) rotate(-90)" font-size="22" font-family="Liberation Serif, Times New Roman, serif" fill="#111" text-anchor="middle" textLength="70.5" lengthAdjust="spacingAndGlyphs">Age(ka)</text>
<text x="498" y="177.5" font-size="15" font-family="Liberation Serif, Times New Roman, serif" fill="#111" text-anchor="start" textLength="47.2" lengthAdjust="spacingAndGlyphs" >Warmer</text>
<text x="666" y="176.7" font-size="15" font-family="Liberation Serif, Times New Roman, serif" fill="#111" text-anchor="start" textLength="38.8" lengthAdjust="spacingAndGlyphs" >Colder</text>
<text x="740" y="193.5" font-size="15" font-family="Liberation Serif, Times New Roman, serif" fill="#0a8a32" text-anchor="start" textLength="77.5" lengthAdjust="spacingAndGlyphs" >Dongge Cave</text>
<text x="743.7" y="260.5" font-size="15.3" font-family="Liberation Serif, Times New Roman, serif" fill="#111" text-anchor="start" textLength="89.7" lengthAdjust="spacingAndGlyphs" >Asian monsoon</text>
<text x="766" y="284.7" font-size="15" font-family="Liberation Serif, Times New Roman, serif" fill="#111" text-anchor="start" textLength="31.6" lengthAdjust="spacingAndGlyphs" >Weak</text>
<text x="775.6" y="430" font-size="15" font-family="Liberation Serif, Times New Roman, serif" fill="#ec22ec" text-anchor="start" textLength="90.4" lengthAdjust="spacingAndGlyphs" >Mawmluh Cave</text>
<path d="M548,188.8H503" stroke="#999" stroke-width="0.8"/><path d="M496,188.8L506.5,185.6V192Z" fill="#111"/>
<path d="M663,185.6H708" stroke="#333" stroke-width="0.8"/><path d="M716.3,185.6L705.8,182.4V188.8Z" fill="#111"/>
<path d="M800.3,295.6H774" stroke="#333" stroke-width="0.8"/><path d="M766.4,295.6L776.5,292.6V298.6Z" fill="#111"/>
<text transform="translate(181,176.2) rotate(-42.5)" font-size="15" font-family="Liberation Serif, serif" font-weight="bold" font-style="italic" fill="#1010e0" text-anchor="middle" textLength="82" lengthAdjust="spacingAndGlyphs">Yanjin Valley</text>
<text transform="translate(307.8,201.2) rotate(-43)" font-size="15" font-family="Liberation Serif, serif" font-weight="bold" font-style="italic" fill="#0ee62e" text-anchor="middle" textLength="87" lengthAdjust="spacingAndGlyphs">Sancha Valley</text>
<text transform="translate(443.9,215.2) rotate(-44)" font-size="15" font-family="Liberation Serif, serif" font-weight="bold" font-style="italic" fill="#ee1212" text-anchor="middle" textLength="72" lengthAdjust="spacingAndGlyphs">Riju Valley</text>
<text x="462.3" y="391.1" font-size="12" font-family="Liberation Mono, monospace" fill="#3a3a3a" text-anchor="start" textLength="9.6" lengthAdjust="spacingAndGlyphs" >M1</text>
<text x="462.3" y="406.9" font-size="12" font-family="Liberation Mono, monospace" fill="#3a3a3a" text-anchor="start" textLength="9.6" lengthAdjust="spacingAndGlyphs" >M2</text>
<text x="462.3" y="422.4" font-size="12" font-family="Liberation Mono, monospace" fill="#3a3a3a" text-anchor="start" textLength="9.6" lengthAdjust="spacingAndGlyphs" >M3</text>
<text x="462.3" y="438.7" font-size="12" font-family="Liberation Mono, monospace" fill="#3a3a3a" text-anchor="start" textLength="9.6" lengthAdjust="spacingAndGlyphs" >M2</text>
<text x="462.3" y="453.9" font-size="12" font-family="Liberation Mono, monospace" fill="#3a3a3a" text-anchor="start" textLength="9.6" lengthAdjust="spacingAndGlyphs" >M3</text>
<text x="462.3" y="469.9" font-size="12" font-family="Liberation Mono, monospace" fill="#3a3a3a" text-anchor="start" textLength="9.6" lengthAdjust="spacingAndGlyphs" >M4</text>
<text x="462.3" y="485.7" font-size="12" font-family="Liberation Mono, monospace" fill="#3a3a3a" text-anchor="start" textLength="9.6" lengthAdjust="spacingAndGlyphs" >M1</text>
<text x="462.3" y="502.0" font-size="12" font-family="Liberation Mono, monospace" fill="#3a3a3a" text-anchor="start" textLength="9.6" lengthAdjust="spacingAndGlyphs" >Gr</text>
</svg></body></html>
